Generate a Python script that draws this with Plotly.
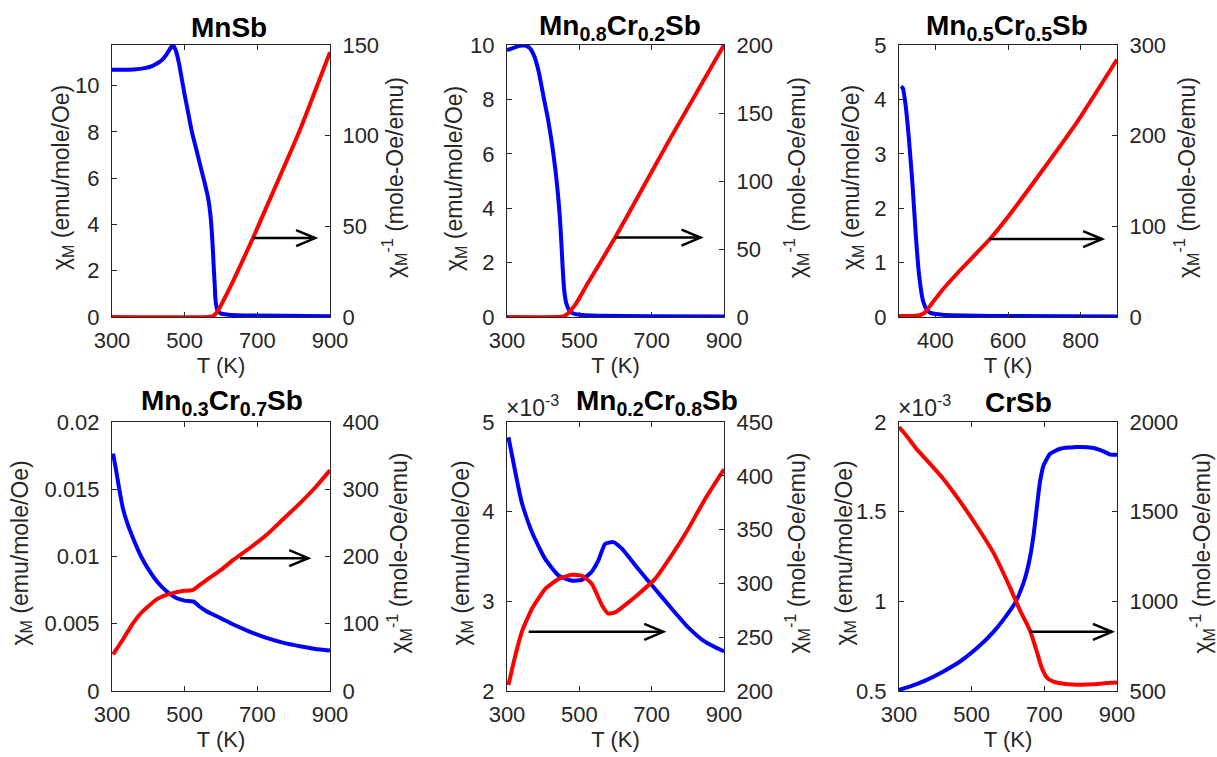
import plotly.graph_objects as go

FONT = "Liberation Sans, Arial, Helvetica, sans-serif"
BLUE = "#0000ff"
RED = "#ff0000"
AXC = "#262626"

# ---------------- data ----------------
titles = ["MnSb", "Mn<sub>0.8</sub>Cr<sub>0.2</sub>Sb", "Mn<sub>0.5</sub>Cr<sub>0.5</sub>Sb",
          "Mn<sub>0.3</sub>Cr<sub>0.7</sub>Sb", "Mn<sub>0.2</sub>Cr<sub>0.8</sub>Sb", "CrSb"]
x_title = "T (K)"
left_title = "χ<sub>M</sub> (emu/mole/Oe)"
right_title = "χ<sub>M</sub><sup>-1</sup> (mole-Oe/emu)"

# MnSb
T1_chi = [300, 360, 390, 410, 425, 440, 452, 462, 468, 476, 484, 492, 500, 510, 520, 532, 543, 555,
          565, 571, 575, 578, 580, 583, 585, 589, 598, 620, 700, 900]
chi1 = [10.69, 10.70, 10.76, 10.85, 10.97, 11.15, 11.40, 11.65, 11.76, 11.50, 11.00, 10.30, 9.60,
        8.80, 8.00, 7.25, 6.55, 5.80, 5.10, 4.40, 3.60, 2.80, 2.16, 1.30, 0.72, 0.35, 0.16, 0.10, 0.06, 0.03]
T1_inv = [300, 565, 578, 588, 600, 634, 689, 726, 817, 900]
inv1 = [0, 0, 0.5, 2.5, 6.5, 20, 44, 61, 103, 146]

# Mn0.8Cr0.2Sb
T2_chi = [300, 320, 335, 350, 362, 375, 388, 401, 413, 424, 434, 441, 446, 450, 454, 458, 464, 472,
          482, 500, 550, 700, 900]
chi2 = [9.81, 9.90, 9.97, 9.98, 9.90, 9.60, 9.00, 8.10, 7.30, 6.40, 5.40, 4.50, 3.70, 2.80, 1.80,
        1.00, 0.50, 0.25, 0.14, 0.08, 0.05, 0.03, 0.02]
T2_inv = [300, 440, 455, 465, 475, 490, 525, 599, 663, 755, 900]
inv2 = [0, 0, 0.5, 1.8, 4.5, 9.5, 25.5, 58.4, 89, 133, 200]

# Mn0.5Cr0.5Sb
T3_chi = [306, 311, 318, 327, 337, 346, 355, 366, 376, 385, 420, 550, 900]
chi3 = [4.24, 4.20, 3.90, 3.30, 2.45, 1.53, 0.79, 0.30, 0.14, 0.08, 0.04, 0.02, 0.01]
T3_inv = [300, 340, 357, 371, 385, 421, 467, 550, 606, 698, 790, 900]
inv3 = [1, 1.2, 2, 4.8, 12, 30.6, 51, 86, 113.7, 163.5, 215, 284]

# Mn0.3Cr0.7Sb
T4_chi = [303, 306, 312, 320, 330, 343, 358, 380, 404, 425, 450, 477, 500, 515, 525, 540, 560, 600,
          634, 680, 725, 770, 817, 860, 900]
chi4 = [0.01765, 0.0172, 0.0163, 0.0150, 0.01358, 0.0124, 0.01136, 0.0100, 0.00889, 0.0081, 0.00741,
        0.00691, 0.00672, 0.00668, 0.00665, 0.0063, 0.00593, 0.0054, 0.00494, 0.0044, 0.00395,
        0.0036, 0.00333, 0.00313, 0.00301]
T4_inv = [303, 330, 358, 380, 404, 425, 450, 470, 487, 500, 514, 525, 540, 560, 600, 634, 680, 725,
          770, 817, 860, 900]
inv4 = [54.3, 76.5, 101, 116, 128, 137, 143, 146, 148, 149, 149.5, 151, 157, 165, 180, 195, 213, 232,
        255, 279, 303, 328]

# Mn0.2Cr0.8Sb
T5_chi = [304, 323, 341, 369, 406, 442, 479, 507, 534, 553, 571, 594, 617, 663, 709, 755, 801, 847, 900]
chi5 = [0.00483, 0.00444, 0.00410, 0.00377, 0.00347, 0.00329, 0.00323, 0.00324, 0.00333, 0.00346,
        0.00364, 0.00366, 0.00359, 0.00336, 0.00314, 0.00292, 0.00271, 0.00255, 0.00244]
T5_inv = [304, 323, 341, 369, 406, 442, 479, 507, 534, 562, 580, 599, 627, 663, 709, 755, 801, 847, 900]
inv5 = [205.6, 233, 255, 276.5, 295, 304, 308, 307, 300, 280, 272, 273, 280, 290, 304, 326, 350.6, 378, 406]

# CrSb
T6_chi = [300, 329, 375, 421, 467, 514, 560, 606, 622, 633, 647, 661, 671, 679, 688, 698, 716, 744,
          790, 836, 863, 882, 900]
chi6 = [0.000506, 0.000524, 0.000561, 0.000608, 0.000663, 0.000738, 0.00083, 0.00095, 0.00100,
        0.00105, 0.00113, 0.00125, 0.00138, 0.001517, 0.001666, 0.001759, 0.001823, 0.001851,
        0.001861, 0.001855, 0.001836, 0.001818, 0.001818]
T6_inv = [300, 320, 348, 375, 421, 467, 514, 560, 606, 622, 633, 661, 679, 693, 707, 725, 744, 790,
          836, 882, 900]
inv6 = [1972, 1925, 1850, 1790, 1685, 1560, 1420, 1270, 1075, 1000, 950, 835, 722, 628, 575, 552,
        543, 535, 537, 546, 548]

T_chi = [T1_chi, T2_chi, T3_chi, T4_chi, T5_chi, T6_chi]
chi = [chi1, chi2, chi3, chi4, chi5, chi6]
T_inv = [T1_inv, T2_inv, T3_inv, T4_inv, T5_inv, T6_inv]
inv = [inv1, inv2, inv3, inv4, inv5, inv6]

# axis limits and ticks
left_range = [[0, 11.76], [0, 10], [0, 5], [0, 0.02], [0.002, 0.005], [0.0005, 0.002]]
left_ticks = [[0, 2, 4, 6, 8, 10], [0, 2, 4, 6, 8, 10], [0, 1, 2, 3, 4, 5],
              [0, 0.005, 0.01, 0.015, 0.02], [0.002, 0.003, 0.004, 0.005], [0.0005, 0.001, 0.0015, 0.002]]
left_ticktext = [["0", "2", "4", "6", "8", "10"], ["0", "2", "4", "6", "8", "10"],
                 ["0", "1", "2", "3", "4", "5"], ["0", "0.005", "0.01", "0.015", "0.02"],
                 ["2", "3", "4", "5"], ["0.5", "1", "1.5", "2"]]
right_range = [[0, 150], [0, 200], [0, 300], [0, 400], [200, 450], [500, 2000]]
right_ticks = [[0, 50, 100, 150], [0, 50, 100, 150, 200], [0, 100, 200, 300],
               [0, 100, 200, 300, 400], [200, 250, 300, 350, 400, 450], [500, 1000, 1500, 2000]]
x_ticks = [[300, 500, 700, 900], [300, 500, 700, 900], [400, 600, 800],
           [300, 500, 700, 900], [300, 500, 700, 900], [300, 500, 700, 900]]
exponent_label = [None, None, None, None, "×10<sup>-3</sup>", "×10<sup>-3</sup>"]

# arrows (pointing to right axis): tail T, tip T, value on right axis
arrow_tail = [689, 599, 550, 652, 360, 661]
arrow_tip = [859, 835, 859, 840, 732, 886]
arrow_val = [43.5, 58.4, 86, 197.5, 255, 830]

# ---------------- layout geometry (pixels) ----------------
W, H = 1217, 757
col_px = [(112, 330), (507, 724), (899, 1117)]
row_px = [(45, 317), (422, 691)]
title_x_px = [229, 620, 1007, 222, 657, 1018]
title_y_px = [27, 27, 27, 402, 402, 402]
left_title_x_px = [62, 455, 852, 21, 462, 845]
right_title_x_px = [394, 796, 1186, 398, 796, 1201]

fig = go.Figure()
layout = dict(width=W, height=H, margin=dict(l=0, r=0, t=0, b=0, autoexpand=False),
              paper_bgcolor="white", plot_bgcolor="white", showlegend=False,
              font=dict(family=FONT, size=22, color=AXC))
annotations = []
shapes = []

tickfont = dict(family=FONT, size=22, color=AXC)
ytitlefont = dict(family=FONT, size=23, color=AXC)
for i in range(6):
    r, c = divmod(i, 3)
    xid = i + 1
    yl = i + 1
    yr = i + 7
    xd = [col_px[c][0] / W, col_px[c][1] / W]
    yd = [1 - row_px[r][1] / H, 1 - row_px[r][0] / H]
    ymid = 1 - ((row_px[r][0] + row_px[r][1]) / 2 - 3) / H

    fig.add_trace(go.Scatter(x=T_chi[i], y=chi[i], mode="lines",
                             line=dict(color=BLUE, width=4, shape="spline", smoothing=0.5),
                             xaxis=f"x{xid}", yaxis=f"y{yl}", name="χM"))
    fig.add_trace(go.Scatter(x=T_inv[i], y=inv[i], mode="lines",
                             line=dict(color=RED, width=4, shape="spline", smoothing=0.5),
                             xaxis=f"x{xid}", yaxis=f"y{yr}", name="1/χM"))

    layout[f"xaxis{xid}"] = dict(domain=xd, anchor=f"y{yl}", range=[300, 900], automargin=False,
                                 tickvals=x_ticks[i], ticks="inside", ticklen=5, tickcolor=AXC,
                                 showline=True, linecolor=AXC, linewidth=1, mirror="ticks",
                                 showgrid=False, zeroline=False, tickfont=tickfont,
                                 ticklabelstandoff=4,
                                 title=dict(text=x_title, font=dict(family=FONT, size=22, color=AXC),
                                            standoff=2))
    layout[f"yaxis{yl}"] = dict(domain=yd, anchor=f"x{xid}", range=left_range[i], automargin=False,
                                tickvals=left_ticks[i], ticktext=left_ticktext[i],
                                ticks="inside", ticklen=5, tickcolor=AXC,
                                showline=True, linecolor=AXC, linewidth=1, mirror=False,
                                showgrid=False, zeroline=False, tickfont=tickfont,
                                ticklabelstandoff=7)
    layout[f"yaxis{yr}"] = dict(domain=yd, anchor=f"x{xid}", overlaying=f"y{yl}", side="right",
                                range=right_range[i], tickvals=right_ticks[i], automargin=False,
                                ticks="inside", ticklen=5, tickcolor=AXC,
                                showline=True, linecolor=AXC, linewidth=1,
                                showgrid=False, zeroline=False, tickfont=tickfont,
                                ticklabelstandoff=7)

    # y-axis titles (rotated text placed beside each axis)
    annotations.append(dict(text=left_title, xref="paper", yref="paper", textangle=-90,
                            x=left_title_x_px[i] / W, y=ymid, xanchor="center", yanchor="middle",
                            showarrow=False, font=ytitlefont))
    annotations.append(dict(text=right_title, xref="paper", yref="paper", textangle=-90,
                            x=right_title_x_px[i] / W, y=ymid, xanchor="center", yanchor="middle",
                            showarrow=False, font=ytitlefont))

    annotations.append(dict(text=f"<b>{titles[i]}</b>", xref="paper", yref="paper",
                            x=title_x_px[i] / W, y=1 - title_y_px[i] / H,
                            xanchor="center", yanchor="middle", showarrow=False,
                            font=dict(family=FONT, size=28, color="black")))
    if exponent_label[i]:
        annotations.append(dict(text=exponent_label[i], xref="paper", yref="paper",
                                x=(col_px[c][0] - 3) / W, y=1 - (row_px[r][0] + 1) / H,
                                xanchor="left", yanchor="bottom", showarrow=False,
                                font=dict(family=FONT, size=23, color=AXC)))

    # arrow shaft + open chevron head
    shapes.append(dict(type="line", xref=f"x{xid}", yref=f"y{yr}",
                       x0=arrow_tail[i], x1=arrow_tip[i], y0=arrow_val[i], y1=arrow_val[i],
                       line=dict(color="black", width=2.5)))
    shapes.append(dict(type="path", xref=f"x{xid}", yref=f"y{yr}",
                       xsizemode="pixel", ysizemode="pixel",
                       xanchor=arrow_tip[i], yanchor=arrow_val[i],
                       path="M-19,8 L0,0 L-19,-8",
                       line=dict(color="black", width=2.5)))

layout["annotations"] = annotations
layout["shapes"] = shapes
fig.update_layout(**layout)
fig.write_html("out.html", config={"displayModeBar": False},
               post_script="document.body.style.margin='0';document.body.style.padding='0';")
